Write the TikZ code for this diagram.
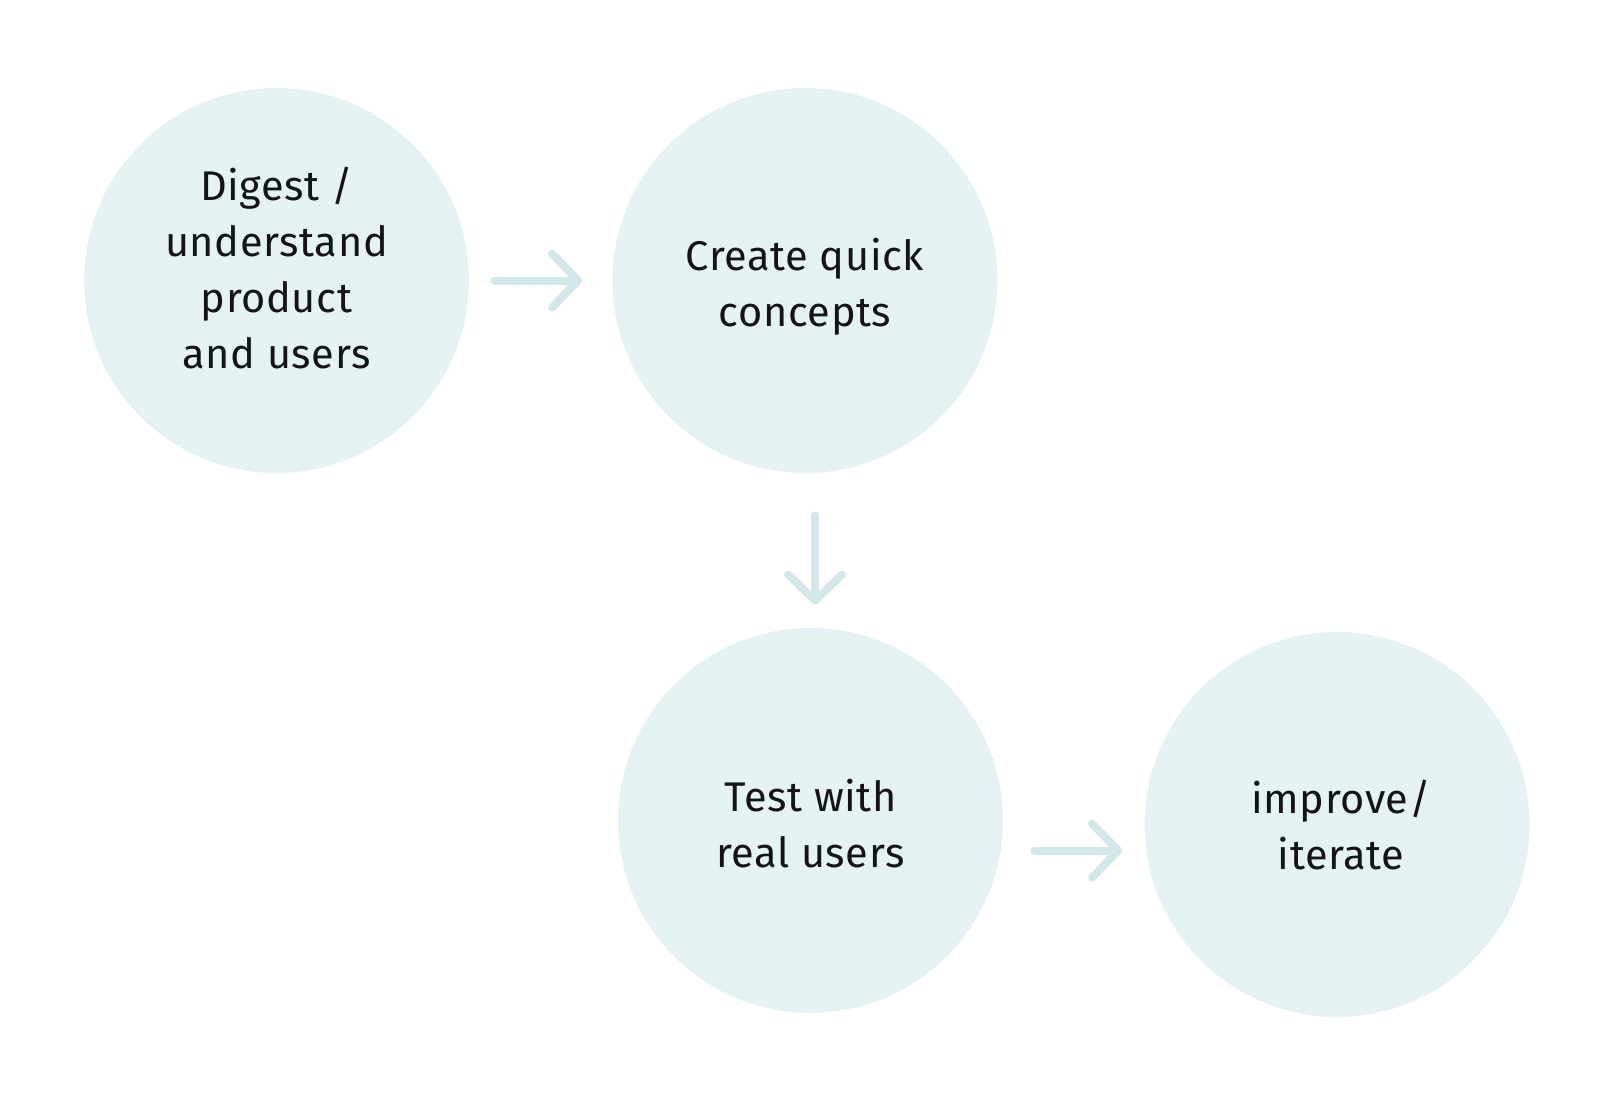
\documentclass[tikz,border=0pt]{standalone}
\usepackage{fontspec}
\setmainfont{Fira Sans}[LetterSpace=1.5]
\usepackage{tikz}
\usetikzlibrary{arrows.meta}

\definecolor{bubblefill}{HTML}{E4F2F3}
\definecolor{arrowline}{HTML}{D3E7EA}

\begin{document}
\begin{tikzpicture}[x=0.5pt, y=-0.5pt,
	stage/.style={circle, fill=bubblefill, minimum size=192.5pt, inner sep=0pt},
	caption/.style={align=center, inner sep=0pt, text=black!92,
		font=\fontsize{20.75}{28}\selectfont},
	flow/.style={draw=arrowline, line width=4pt, line cap=round,
		-{Straight Barb[length=13pt, width=27pt, round]}}]
	
	\useasboundingbox (0,0) rectangle (1604,1118);
	
	\node[stage] (digest)  at (276.5,280.5) {};
	\node[stage] (create)  at (805,280.5)   {};
	\node[stage] (test)    at (810.5,820.5) {};
	\node[stage] (improve) at (1337,824.5)  {};
	
	\node[caption, yshift=6pt]                (digest-text)  at (digest)  {Digest /\\understand\\product\\and users};
	\node[caption, yshift=-3pt]               (create-text)  at (create)  {Create quick\\concepts};
	\node[caption, yshift=-1.5pt]             (test-text)    at (test)    {Test with\\real users};
	\node[caption, xshift=2pt]                (improve-text) at (improve) {improve/\\iterate};
	
	% connectors
	\draw[flow, shorten <=12.5pt, shorten >=15pt] (digest) -- (create);
	\draw[flow, shorten <=21pt, shorten >=11.5pt] ([xshift=2.25pt]create.south -| test.center) -- ([xshift=2.25pt]test.north);
	\draw[flow, shorten <=15.5pt, shorten >=11pt] ([yshift=-15pt]test.east) -- ([yshift=-15pt]test.east -| improve.west);
	
\end{tikzpicture}
\end{document}
